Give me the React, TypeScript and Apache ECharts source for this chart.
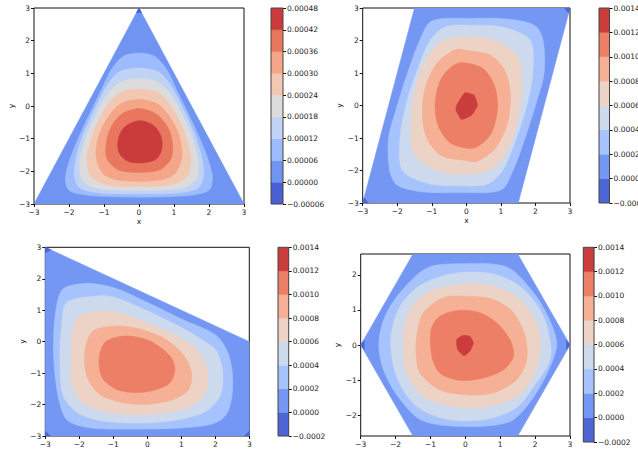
import React, { useEffect, useRef } from "react";
import * as echarts from "echarts";

type Pt = [number, number];

const X_TICKS = [-3, -2, -1, 0, 1, 2, 3];
const Y_TICKS = [-3, -2, -1, 0, 1, 2, 3];
const Y_TICKS_HEX = [-2, -1, 0, 1, 2];
const HEX_H = 2.598;

const LEVELS_A = [-0.00006, 0, 0.00006, 0.00012, 0.00018, 0.00024, 0.0003, 0.00036, 0.00042, 0.00048];
const LEVELS_B = [-0.0002, 0, 0.0002, 0.0004, 0.0006, 0.0008, 0.001, 0.0012, 0.0014];
const COLORS_A = ["#4a5fd1", "#7094f2", "#9dbcfd", "#c0d3f5", "#dcdcdc", "#f2c8b3", "#f5a688", "#e8775e", "#c93c3b"];
const COLORS_B = ["#4e65d5", "#7597f4", "#a6c3fd", "#cdd9ec", "#edd3c6", "#f5b095", "#ec7f66", "#cb3d3c"];

// ---- panel 1 : triangle ----
const P1_DOMAIN: Pt[] = [[-3, -3], [3, -3], [0, 3]];
const P1_TIP: Pt[] = [[0, 3], [-0.07, 2.86], [0.07, 2.86]];
const P1_L2: Pt[] = [[0, 1.62], [0.45, 1.52], [0.8, 1.1], [1.05, 0.55], [1.3, 0], [1.55, -0.55], [1.78, -1.1], [1.98, -1.65], [2.1, -2.2], [2.0, -2.58], [1.4, -2.74], [0, -2.79], [-1.4, -2.74], [-2.0, -2.58], [-2.1, -2.2], [-1.98, -1.65], [-1.78, -1.1], [-1.55, -0.55], [-1.3, 0], [-1.05, 0.55], [-0.8, 1.1], [-0.45, 1.52]];
const P1_L3: Pt[] = [[0, 1.16], [0.55, 1.05], [0.9, 0.65], [1.15, 0.15], [1.4, -0.4], [1.6, -0.9], [1.78, -1.5], [1.85, -2.1], [1.7, -2.5], [1.1, -2.66], [0, -2.69], [-1.1, -2.66], [-1.7, -2.5], [-1.85, -2.1], [-1.78, -1.5], [-1.6, -0.9], [-1.4, -0.4], [-1.15, 0.15], [-0.9, 0.65], [-0.55, 1.05]];
const P1_L4: Pt[] = [[0, 0.84], [0.55, 0.72], [0.95, 0.3], [1.2, -0.2], [1.38, -0.6], [1.53, -1.0], [1.68, -1.6], [1.65, -2.2], [1.3, -2.5], [0, -2.58], [-1.3, -2.5], [-1.65, -2.2], [-1.68, -1.6], [-1.53, -1.0], [-1.38, -0.6], [-1.2, -0.2], [-0.95, 0.3], [-0.55, 0.72]];
const P1_L5: Pt[] = [[0, 0.52], [0.55, 0.4], [0.95, -0.05], [1.18, -0.5], [1.36, -1.0], [1.48, -1.6], [1.38, -2.15], [0.9, -2.42], [0, -2.46], [-0.9, -2.42], [-1.38, -2.15], [-1.48, -1.6], [-1.36, -1.0], [-1.18, -0.5], [-0.95, -0.05], [-0.55, 0.4]];
const P1_L6: Pt[] = [[0, 0.2], [0.55, 0.05], [0.95, -0.45], [1.17, -1.0], [1.22, -1.6], [1.0, -2.1], [0.5, -2.28], [-0.5, -2.28], [-1.0, -2.1], [-1.22, -1.6], [-1.17, -1.0], [-0.95, -0.45], [-0.55, 0.05]];
const P1_L7: Pt[] = [[0, -0.08], [0.5, -0.25], [0.82, -0.65], [0.95, -1.1], [0.92, -1.6], [0.6, -1.95], [0, -2.03], [-0.6, -1.95], [-0.92, -1.6], [-0.93, -1.1], [-0.8, -0.65], [-0.5, -0.25]];
const P1_L8: Pt[] = [[0, -0.45], [0.4, -0.58], [0.62, -0.9], [0.66, -1.25], [0.52, -1.6], [0.15, -1.74], [-0.3, -1.7], [-0.56, -1.45], [-0.6, -1.05], [-0.42, -0.65]];

// ---- panel 2 : parallelogram ----
const P2_DOMAIN: Pt[] = [[-3, -3], [1.5, -3], [3, 3], [-1.5, 3]];
const P2_C1: Pt[] = [[3, 3], [2.84, 3], [2.96, 2.84]];
const P2_C2: Pt[] = [[-3, -3], [-2.84, -3], [-2.96, -2.84]];
const P2_L2: Pt[] = [[0.2, 2.68], [1.3, 2.65], [2.0, 2.45], [2.22, 2.0], [2.25, 1.0], [2.0, 0], [1.7, -1.0], [1.35, -2.0], [1.0, -2.6], [-0.2, -2.68], [-1.3, -2.65], [-2.0, -2.45], [-2.22, -2.0], [-2.25, -1.0], [-2.0, 0], [-1.7, 1.0], [-1.35, 2.0], [-1.0, 2.6]];
const P2_L3: Pt[] = [[0.15, 2.47], [1.1, 2.4], [1.85, 2.0], [1.92, 1.0], [1.75, 0], [1.45, -1.0], [1.05, -2.0], [0.6, -2.42], [-0.15, -2.47], [-1.1, -2.4], [-1.85, -2.0], [-1.92, -1.0], [-1.75, 0], [-1.45, 1.0], [-1.05, 2.0], [-0.6, 2.42]];
const P2_L4: Pt[] = [[0.1, 2.12], [0.85, 2.0], [1.5, 1.5], [1.6, 0.5], [1.45, -0.6], [1.15, -1.45], [0.7, -1.98], [-0.1, -2.12], [-0.85, -2.0], [-1.5, -1.5], [-1.6, -0.5], [-1.45, 0.6], [-1.15, 1.45], [-0.7, 1.98]];
const P2_L5: Pt[] = [[0.1, 1.68], [0.7, 1.55], [1.1, 1.1], [1.27, 0.4], [1.2, -0.5], [0.85, -1.3], [0.3, -1.72], [-0.1, -1.68], [-0.7, -1.55], [-1.1, -1.1], [-1.27, -0.4], [-1.2, 0.5], [-0.85, 1.3], [-0.3, 1.72]];
const P2_L6: Pt[] = [[0.05, 1.3], [0.5, 1.12], [0.82, 0.6], [0.9, -0.1], [0.72, -0.85], [0.3, -1.28], [-0.05, -1.3], [-0.5, -1.12], [-0.82, -0.6], [-0.9, 0.1], [-0.72, 0.85], [-0.3, 1.28]];
const P2_L7: Pt[] = [[-0.28, 0.01], [-0.04, 0.39], [0.22, 0.32], [0.32, 0.01], [0.15, -0.3], [-0.14, -0.43], [-0.3, -0.14]];

// ---- panel 3 : trapezoid ----
const P3_DOMAIN: Pt[] = [[-3, -3], [3, -3], [3, 0], [-3, 3]];
const P3_C1: Pt[] = [[-3, 3], [-3, 2.82], [-2.84, 2.92]];
const P3_C2: Pt[] = [[-3, -3], [-2.85, -3], [-3, -2.85]];
const P3_C3: Pt[] = [[3, -3], [2.85, -3], [3, -2.85]];
const P3_L2: Pt[] = [[-2.5, 1.65], [-1.8, 1.85], [-1.0, 1.72], [0, 1.25], [1.0, 0.72], [2.0, 0.22], [2.35, -0.3], [2.5, -1.0], [2.48, -1.8], [2.3, -2.35], [1.9, -2.62], [0.9, -2.75], [-0.6, -2.78], [-1.7, -2.74], [-2.35, -2.5], [-2.6, -1.85], [-2.75, -0.6], [-2.72, 0.7]];
const P3_L3: Pt[] = [[-2.37, 1.24], [-1.49, 1.45], [-1.0, 1.42], [0, 0.98], [1.0, 0.45], [1.7, 0], [2.04, -0.3], [2.22, -0.99], [2.14, -1.73], [1.65, -2.26], [0.47, -2.55], [-1.0, -2.56], [-1.98, -2.31], [-2.47, -1.73], [-2.57, -0.56], [-2.52, 0.5]];
const P3_L4: Pt[] = [[-1.98, 0.82], [-1.1, 0.97], [-0.12, 0.65], [0.96, 0.12], [1.45, -0.25], [1.75, -0.85], [1.72, -1.62], [1.16, -2.1], [0.08, -2.31], [-1.1, -2.26], [-1.88, -1.94], [-2.23, -1.31], [-2.23, -0.35], [-2.18, 0.39]];
const P3_L5: Pt[] = [[-1.83, -0.24], [-1.59, 0.34], [-0.9, 0.5], [-0.22, 0.4], [0.5, 0.1], [1.05, -0.4], [1.3, -0.99], [1.22, -1.52], [0.76, -1.84], [0.08, -1.99], [-0.71, -1.94], [-1.39, -1.68], [-1.78, -1.09]];
const P3_L6: Pt[] = [[-1.39, -0.35], [-1.2, 0.02], [-0.61, 0.18], [0.08, 0.02], [0.67, -0.46], [0.81, -0.88], [0.67, -1.31], [0.27, -1.52], [-0.31, -1.62], [-0.9, -1.52], [-1.29, -1.2], [-1.41, -0.83]];

// ---- panel 4 : hexagon ----
const P4_DOMAIN: Pt[] = [[3, 0], [1.5, HEX_H], [-1.5, HEX_H], [-3, 0], [-1.5, -HEX_H], [1.5, -HEX_H]];
const P4_C1: Pt[] = [[-3, 0], [-2.9, 0.13], [-2.9, -0.13]];
const P4_C2: Pt[] = [[3, 0], [2.9, 0.13], [2.9, -0.13]];
const P4_L2: Pt[] = [[2.62, 0], [2.4, 0.75], [1.95, 1.5], [1.2, 2.22], [0, 2.32], [-1.1, 2.2], [-1.95, 1.4], [-2.35, 0.7], [-2.48, 0], [-2.35, -0.7], [-1.95, -1.45], [-1.25, -2.15], [0, -2.33], [1.25, -2.2], [1.8, -1.7], [2.3, -0.9]];
const P4_L3: Pt[] = [[2.45, 0], [2.2, 0.9], [1.6, 1.65], [0.8, 2.03], [-0.3, 2.05], [-1.3, 1.7], [-1.9, 1.05], [-2.14, 0.1], [-1.95, -0.95], [-1.4, -1.75], [-0.5, -2.13], [0.6, -2.12], [1.45, -1.8], [1.95, -1.2], [2.4, -0.5]];
const P4_L4: Pt[] = [[-1.78, 0.15], [-1.63, 0.92], [-1.11, 1.49], [-0.15, 1.73], [0.8, 1.68], [1.57, 1.3], [2.04, 0.63], [2.14, -0.13], [1.95, -0.9], [1.47, -1.47], [0.61, -1.76], [-0.34, -1.76], [-1.2, -1.47], [-1.68, -0.8]];
const P4_L5: Pt[] = [[-1.39, 0.3], [-1.2, 0.92], [-0.63, 1.35], [0.04, 1.39], [0.8, 1.3], [1.38, 0.92], [1.71, 0.25], [1.76, -0.42], [1.47, -0.99], [0.8, -1.37], [0.04, -1.42], [-0.73, -1.28], [-1.3, -0.8], [-1.41, -0.23]];
const P4_L6: Pt[] = [[-0.98, 0.44], [-0.73, 0.82], [-0.15, 0.99], [0.42, 0.92], [0.9, 0.63], [1.28, 0.15], [1.38, -0.32], [1.09, -0.71], [0.52, -0.94], [-0.15, -1.01], [-0.73, -0.8], [-0.96, -0.32]];
const P4_L7: Pt[] = [[-0.25, 0.15], [-0.08, 0.27], [0.13, 0.25], [0.23, 0.06], [0.13, -0.18], [-0.04, -0.31], [-0.22, -0.13]];

type Shape = { pts: Pt[]; band: number; smooth: number };
const SM = 0.3;

const PANEL1: Shape[] = [
  { pts: P1_DOMAIN, band: 1, smooth: 0 },
  { pts: P1_TIP, band: 0, smooth: 0 },
  { pts: P1_L2, band: 2, smooth: SM },
  { pts: P1_L3, band: 3, smooth: SM },
  { pts: P1_L4, band: 4, smooth: SM },
  { pts: P1_L5, band: 5, smooth: SM },
  { pts: P1_L6, band: 6, smooth: SM },
  { pts: P1_L7, band: 7, smooth: SM },
  { pts: P1_L8, band: 8, smooth: SM },
];
const PANEL2: Shape[] = [
  { pts: P2_DOMAIN, band: 1, smooth: 0 },
  { pts: P2_C1, band: 0, smooth: 0 },
  { pts: P2_C2, band: 0, smooth: 0 },
  { pts: P2_L2, band: 2, smooth: SM },
  { pts: P2_L3, band: 3, smooth: SM },
  { pts: P2_L4, band: 4, smooth: SM },
  { pts: P2_L5, band: 5, smooth: SM },
  { pts: P2_L6, band: 6, smooth: SM },
  { pts: P2_L7, band: 7, smooth: 0.15 },
];
const PANEL3: Shape[] = [
  { pts: P3_DOMAIN, band: 1, smooth: 0 },
  { pts: P3_C1, band: 0, smooth: 0 },
  { pts: P3_C2, band: 0, smooth: 0 },
  { pts: P3_C3, band: 0, smooth: 0 },
  { pts: P3_L2, band: 2, smooth: SM },
  { pts: P3_L3, band: 3, smooth: SM },
  { pts: P3_L4, band: 4, smooth: SM },
  { pts: P3_L5, band: 5, smooth: SM },
  { pts: P3_L6, band: 6, smooth: SM },
];
const PANEL4: Shape[] = [
  { pts: P4_DOMAIN, band: 1, smooth: 0 },
  { pts: P4_C1, band: 0, smooth: 0 },
  { pts: P4_C2, band: 0, smooth: 0 },
  { pts: P4_L2, band: 2, smooth: SM },
  { pts: P4_L3, band: 3, smooth: SM },
  { pts: P4_L4, band: 4, smooth: SM },
  { pts: P4_L5, band: 5, smooth: SM },
  { pts: P4_L6, band: 6, smooth: SM },
  { pts: P4_L7, band: 7, smooth: 0.15 },
];

const FONT = "DejaVu Sans";
const FS = 7.5;
const TXT = "#222";

const fmtTick = (v: number) => (v < 0 ? "\u2212" + Math.abs(v) : String(v));

export default function App() {
  const ref = useRef<HTMLDivElement>(null);
  useEffect(() => {
    if (!ref.current) return;
    const chart = echarts.init(ref.current, undefined, { renderer: "svg" });

    const plots = [
      { g: { left: 34, top: 8, width: 210, height: 196 }, shapes: PANEL1, colors: COLORS_A, ymin: -3, ymax: 3, yt: Y_TICKS, yGap: 13, xGap: 13 },
      { g: { left: 362.7, top: 8, width: 207.3, height: 195 }, shapes: PANEL2, colors: COLORS_B, ymin: -3, ymax: 3, yt: Y_TICKS, yGap: 12.5, xGap: 13 },
      { g: { left: 45.3, top: 247.3, width: 204, height: 188.7 }, shapes: PANEL3, colors: COLORS_B, ymin: -3, ymax: 3, yt: Y_TICKS, yGap: 13, xGap: 13 },
      { g: { left: 360.7, top: 254, width: 209.3, height: 182 }, shapes: PANEL4, colors: COLORS_B, ymin: -HEX_H, ymax: HEX_H, yt: Y_TICKS_HEX, yGap: 12.5, xGap: 13 },
    ];
    const bars = [
      { g: { left: 271, top: 8, width: 12, height: 196 }, levels: LEVELS_A, colors: COLORS_A, dec: 5 },
      { g: { left: 599, top: 8, width: 10.5, height: 195 }, levels: LEVELS_B, colors: COLORS_B, dec: 4 },
      { g: { left: 278, top: 247.3, width: 10.7, height: 188.7 }, levels: LEVELS_B, colors: COLORS_B, dec: 4 },
      { g: { left: 583.3, top: 247.3, width: 10.7, height: 194.7 }, levels: LEVELS_B, colors: COLORS_B, dec: 4 },
    ];

    const grid: any[] = [];
    const xAxis: any[] = [];
    const yAxis: any[] = [];
    const series: any[] = [];
    const labelStyle = { fontFamily: FONT, fontSize: FS, color: TXT };

    plots.forEach((p, i) => {
      grid.push({ ...p.g, show: true, borderColor: "#111", borderWidth: 1, backgroundColor: "transparent", outerBoundsMode: "none", containLabel: false });
      xAxis.push({
        type: "value", gridIndex: i, min: -3, max: 3,
        name: "x", nameLocation: "middle", nameGap: p.xGap, nameTextStyle: labelStyle,
        axisLine: { show: false, onZero: false }, splitLine: { show: false },
        axisTick: { show: true, inside: false, length: 3, lineStyle: { color: "#111" }, customValues: X_TICKS },
        axisLabel: { ...labelStyle, margin: 4, formatter: fmtTick, customValues: X_TICKS },
      });
      yAxis.push({
        type: "value", gridIndex: i, min: p.ymin, max: p.ymax,
        name: "y", nameLocation: "middle", nameGap: p.yGap, nameTextStyle: labelStyle,
        axisLine: { show: false, onZero: false }, splitLine: { show: false },
        axisTick: { show: true, inside: false, length: 3, lineStyle: { color: "#111" }, customValues: p.yt },
        axisLabel: { ...labelStyle, margin: 4, formatter: fmtTick, customValues: p.yt },
      });
      const shapes = p.shapes;
      const colors = p.colors;
      series.push({
        type: "custom", xAxisIndex: i, yAxisIndex: i, clip: true,
        encode: { x: 0, y: 1 },
        data: shapes.map((_, k) => [0, 0, k]),
        renderItem: (params: any, api: any) => {
          const s = shapes[params.dataIndex];
          const points = s.pts.map((pt) => api.coord(pt));
          const c = colors[s.band];
          return {
            type: "polygon",
            shape: { points, smooth: s.smooth },
            style: { fill: c, stroke: c, lineWidth: 0.6 },
          };
        },
      });
    });

    bars.forEach((b, j) => {
      const i = plots.length + j;
      grid.push({ ...b.g, show: true, borderColor: "#444", borderWidth: 1, backgroundColor: "transparent", z: 5, outerBoundsMode: "none", containLabel: false });
      xAxis.push({ type: "value", gridIndex: i, min: 0, max: 1, show: false, axisLine: { onZero: false } });
      const levels = b.levels;
      const colors = b.colors;
      const dec = b.dec;
      yAxis.push({
        type: "value", gridIndex: i, position: "right",
        min: levels[0], max: levels[levels.length - 1],
        axisLine: { show: false, onZero: false }, splitLine: { show: false },
        axisTick: { show: true, inside: false, length: 3, lineStyle: { color: "#111" }, customValues: levels },
        axisLabel: {
          ...labelStyle, margin: 4, customValues: levels,
          formatter: (v: number) => (v < -1e-12 ? "\u2212" : "") + Math.abs(v).toFixed(dec),
        },
      });
      series.push({
        type: "custom", xAxisIndex: i, yAxisIndex: i, clip: true,
        encode: { x: 0, y: 1 },
        data: colors.map((_, k) => [0.5, levels[k], k]),
        renderItem: (params: any, api: any) => {
          const k = params.dataIndex;
          const a = api.coord([0, levels[k]]);
          const c = api.coord([1, levels[k + 1]]);
          return {
            type: "rect",
            shape: { x: a[0], y: c[1], width: c[0] - a[0], height: a[1] - c[1] },
            style: { fill: colors[k], stroke: colors[k], lineWidth: 0.5 },
          };
        },
      });
    });

    chart.setOption({
      animation: false,
      backgroundColor: "#fff",
      textStyle: { fontFamily: FONT },
      grid, xAxis, yAxis, series,
    });
    return () => chart.dispose();
  }, []);

  return <div ref={ref} style={{ position: "fixed", left: 0, top: 0, width: 638, height: 452 }} />;
}
